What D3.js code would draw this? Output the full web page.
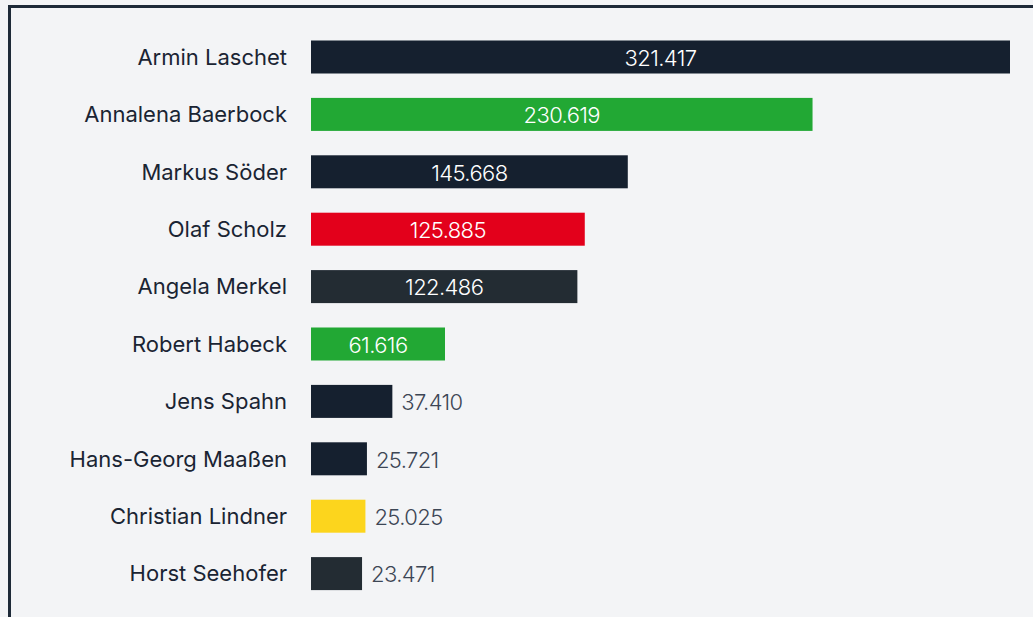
<!DOCTYPE html>
<html lang="de">
<head>
    <meta charset="UTF-8">
    <title>Politiker</title>
    <script src="https://d3js.org/d3.v7.min.js"></script>
    <style>
        html, body {
            margin: 0;
            padding: 0;
            background: #f3f4f6;
            font-family: Inter, "Noto Sans", sans-serif;
        }
        svg { display: block; }
    </style>
</head>
<body>
    <svg width="1033" height="617"></svg>

    <script>
        // Daten
        const names = ["Armin Laschet", "Annalena Baerbock", "Markus Söder", "Olaf Scholz", "Angela Merkel",
                       "Robert Habeck", "Jens Spahn", "Hans-Georg Maaßen", "Christian Lindner", "Horst Seehofer"];
        const values = [321417, 230619, 145668, 125885, 122486, 61616, 37410, 25721, 25025, 23471];
        const colors = ["#15202f", "#22a834", "#15202f", "#e3001b", "#232c33",
                        "#22a834", "#15202f", "#15202f", "#fcd51d", "#232c33"];

        const data = names.map((n, i) => ({ name: n, value: values[i], color: colors[i] }));

        const svg = d3.select("svg");

        // Rahmen oben und links
        svg.append("line")
            .attr("x1", 8).attr("x2", 1033).attr("y1", 6.5).attr("y2", 6.5)
            .attr("stroke", "#1e2a38").attr("stroke-width", 3);
        svg.append("line")
            .attr("x1", 9.5).attr("x2", 9.5).attr("y1", 5).attr("y2", 617)
            .attr("stroke", "#1e2a38").attr("stroke-width", 3);

        const x = d3.scaleLinear()
            .domain([0, d3.max(values)])
            .range([311, 1010]);

        const y = d3.scaleBand()
            .domain(names)
            .range([28.3, 602.3])
            .paddingInner(0.425)
            .paddingOuter(0.2125);

        // Balken
        svg.selectAll(".bar")
            .data(data)
            .enter().append("rect")
            .attr("class", "bar")
            .attr("x", x(0))
            .attr("y", d => y(d.name))
            .attr("width", d => x(d.value) - x(0))
            .attr("height", y.bandwidth())
            .attr("fill", d => d.color);

        // Namen
        svg.selectAll(".name")
            .data(data)
            .enter().append("text")
            .attr("class", "name")
            .attr("x", 287)
            .attr("y", d => y(d.name) + y.bandwidth() / 2)
            .attr("dy", "0.35em")
            .attr("text-anchor", "end")
            .attr("font-size", "22px")
            .attr("fill", "#1a2433")
            .text(d => d.name);

        // Werte
        const fmt = v => v.toLocaleString("de-DE");
        const inside = d => (x(d.value) - x(0)) > 100;
        svg.selectAll(".val")
            .data(data)
            .enter().append("text")
            .attr("class", "val")
            .attr("x", d => inside(d) ? (x(0) + x(d.value)) / 2 : x(d.value) + 9)
            .attr("y", d => y(d.name) + y.bandwidth() / 2 + 1)
            .attr("dy", "0.35em")
            .attr("text-anchor", d => inside(d) ? "middle" : "start")
            .attr("font-size", "22px")
            .attr("font-weight", 300)
            .attr("letter-spacing", "-0.6px")
            .attr("fill", d => inside(d) ? "#ffffff" : "#3d4655")
            .text(d => fmt(d.value));
    </script>
</body>
</html>
